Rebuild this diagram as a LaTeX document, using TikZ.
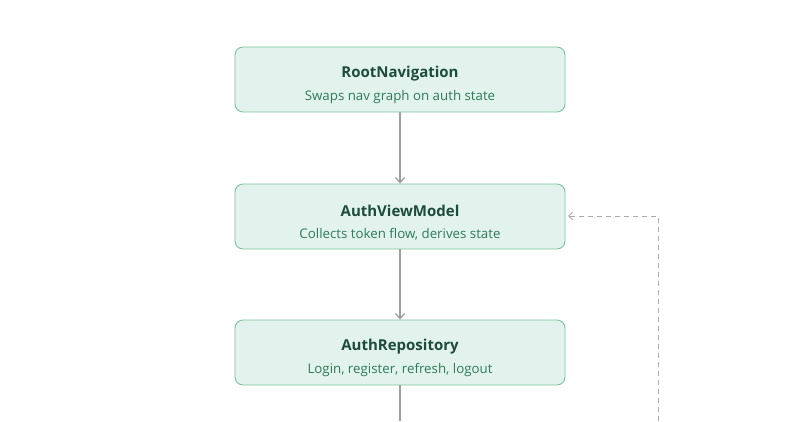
\documentclass[tikz,border=0pt]{standalone}
\usepackage{fontspec}
\setmainfont{Open Sans}
\usetikzlibrary{arrows.meta}
\definecolor{boxfill}{HTML}{E1F3EC}
\definecolor{boxdraw}{HTML}{7CC3A4}
\definecolor{titlecol}{HTML}{1D4B3C}
\definecolor{subcol}{HTML}{2F7A5C}
\definecolor{arrowcol}{HTML}{9E9E9E}
\definecolor{dashcol}{HTML}{ABABAB}
\tikzset{
  x=1pt,y=1pt,
  card/.style={draw=boxdraw, line width=0.9pt, fill=boxfill, rounded corners=8pt,
    minimum width=330pt, minimum height=65pt, inner sep=0pt},
  ttl/.style={font=\fontsize{15}{18}\selectfont\bfseries, text=titlecol, inner sep=0pt},
  sub/.style={font=\fontsize{13.3}{16}\selectfont, text=subcol, inner sep=0pt},
  flow/.style={draw=arrowcol, line width=1.5pt, -{Straight Barb[length=5pt,width=9pt,line width=1.3pt]}},
  plain/.style={draw=arrowcol, line width=1.5pt},
  back/.style={draw=dashcol, line width=1pt, dash pattern=on 5pt off 4pt, -{Straight Barb[length=4pt,width=8pt,line width=1pt]}}
}
\begin{document}
\begin{tikzpicture}
\path[use as bounding box, fill=white] (0,0) rectangle (800,421);
\node[card] (rn) at (400,341.5) {};
\node[ttl] (rnt) at (400,347) {RootNavigation};
\node[sub] (rns) at (400,323.5) {Swaps nav graph on auth state};
\node[card] (vm) at (400,204.5) {};
\node[ttl] (vmt) at (400,210) {AuthViewModel};
\node[sub] (vms) at (400,186.5) {Collects token flow, derives state};
\node[card] (rp) at (400,68.5) {};
\node[ttl] (rpt) at (400,74) {AuthRepository};
\node[sub] (rps) at (400,50.5) {Login, register, refresh, logout};
\coordinate (bot) at (400,0);
\coordinate (dbot) at (658,0);
\coordinate (dtop) at (658,205);
\coordinate (dend) at (568,205);
\draw[flow] (rn.south) -- (vm.north);
\draw[flow] (vm.south) -- (rp.north);
\draw[plain] (rp.south) -- (bot);
\draw[back] (dbot) -- (dtop) -- (dend);
\end{tikzpicture}
\end{document}
